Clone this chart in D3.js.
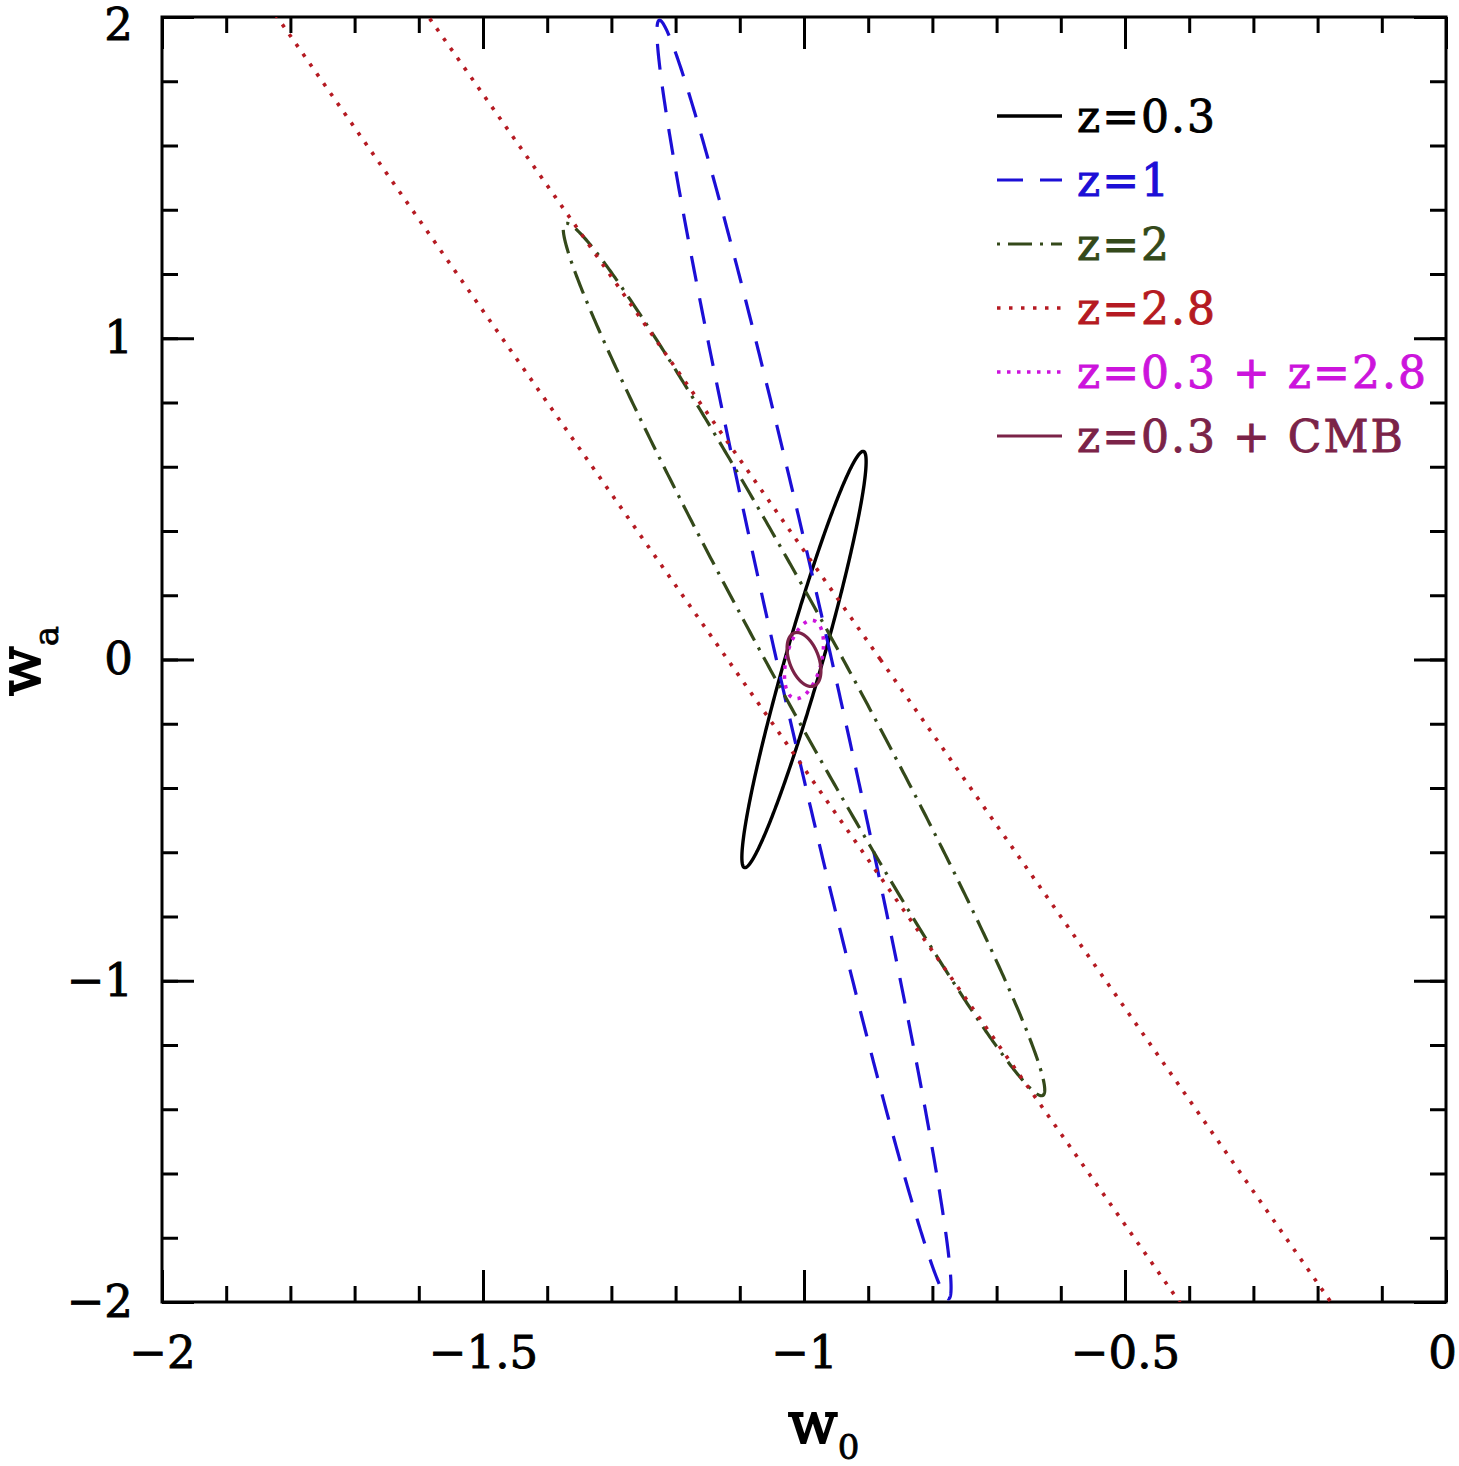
<!DOCTYPE html>
<html>
<head>
<meta charset="utf-8">
<script src="https://cdnjs.cloudflare.com/ajax/libs/d3/7.8.5/d3.min.js"></script>
<style>
  body { margin: 0; background: #fff; }
  text { font-family: "DejaVu Serif", serif; }
</style>
</head>
<body>
<div id="chart"></div>
<script>
// contours: centre, top point (offset) and half width in w0 at the centre
var labels   = ["z=0.3", "z=1", "z=2", "z=2.8", "z=0.3 + z=2.8", "z=0.3 + CMB"];
var centreW0 = [-1.0, -1.0, -1.0, -1.0, -1.0, -1.0];
var centreWa = [0, 0, 0, 0, 0, 0];
var tipW0    = [0.092, -0.225, -0.37, -5.27, 0.012, -0.011];
var tipWa    = [0.648, 1.99, 1.358, 15, 0.122, 0.084];
var halfW0   = [0.030, 0.043, 0.061, 0.119, 0.028, 0.024];

var colours  = ["#000000", "#1c0fd6", "#34491a", "#b51a22", "#cc14dc", "#7b2348"];
var dashes   = ["none", "26,17", "3,8,24,8", "3.5,8.5", "3.5,6.5", "none"];
var widths   = [3.4, 3.2, 3.2, 3.6, 3.6, 3.2];

var xMajor = [-2, -1.5, -1, -0.5, 0];
var yMajor = [-2, -1, 0, 1, 2];
var xMinor = d3.range(-20, 1).map(d => d / 10);
var yMinor = d3.range(-10, 11).map(d => d / 5);

// Setting margins
var svgWidth = 1459;
var svgHeight = 1466;
var margin = {top: 17, right: 13, bottom: 164, left: 162};
var width = svgWidth - margin.left - margin.right;
var height = svgHeight - margin.top - margin.bottom;

var svg = d3.select("#chart")
  .append("svg")
  .attr("width", svgWidth)
  .attr("height", svgHeight);

var chart = svg.append("g")
  .attr("transform", `translate(${margin.left}, ${margin.top})`);

var x = d3.scaleLinear().domain([-2, 0]).range([0, width]);
var y = d3.scaleLinear().domain([-2, 2]).range([height, 0]);

svg.append("defs").append("clipPath").attr("id", "plotclip")
  .append("rect").attr("width", width).attr("height", height);

// axes: minor and major ticks on all four sides, pointing inwards
var fmt = d => d === 0 ? "0" : (d < 0 ? "\u2212" + Math.abs(d) : String(d));

function tickAxis(axis, vals, size, pad, labelled) {
  return axis.tickValues(vals).tickSize(-size).tickPadding(pad)
    .tickFormat(labelled ? fmt : "");
}

var makers = [
  () => d3.axisBottom(x), () => d3.axisTop(x),
  () => d3.axisLeft(y), () => d3.axisRight(y)
];
var places = [`translate(0,${height})`, "translate(0,0)", "translate(0,0)", `translate(${width},0)`];
var minors = [xMinor, xMinor, yMinor, yMinor];
var majors = [xMajor, xMajor, yMajor, yMajor];
var pads = [34, 0, 29, 0];
var axisGroups = [];

makers.forEach(function(make, i) {
  var labelled = i === 0 || i === 2;
  chart.append("g").attr("transform", places[i])
    .call(tickAxis(make(), minors[i], 16, 0, false));
  axisGroups.push(chart.append("g").attr("class", labelled ? "lab" : "")
    .attr("transform", places[i])
    .call(tickAxis(make(), majors[i], 32, pads[i], labelled)));
});

chart.selectAll(".domain").remove();
chart.selectAll(".tick line").attr("stroke", "#000").attr("stroke-width", 3);
chart.selectAll(".lab text")
  .attr("font-family", "DejaVu Serif")
  .attr("font-size", 45)
  .attr("fill", "#000")
  .attr("stroke", "#000")
  .attr("stroke-width", 0.9);

// keep the end labels inside the picture
axisGroups[0].selectAll(".tick text").filter(d => d === 0).attr("dx", -4);
axisGroups[2].selectAll(".tick text").filter(d => d === 2).attr("dy", "0.5em");

chart.append("rect")
  .attr("width", width).attr("height", height)
  .attr("fill", "none").attr("stroke", "#000").attr("stroke-width", 3);

// contours
var angles = d3.range(0, 721).map(d => d / 720 * 2 * Math.PI);
var line = d3.line().x(d => x(d[0])).y(d => y(d[1]));

var plot = chart.append("g").attr("clip-path", "url(#plotclip)");

labels.forEach(function(lab, i) {
  var pts = angles.map(t => [
    centreW0[i] + tipW0[i] * Math.sin(t) + halfW0[i] * Math.cos(t),
    centreWa[i] + tipWa[i] * Math.sin(t)
  ]);
  plot.append("path")
    .attr("d", line(pts))
    .attr("fill", "none")
    .attr("stroke", colours[i])
    .attr("stroke-width", widths[i])
    .attr("stroke-dasharray", dashes[i]);
});

// legend
var legend = svg.append("g").attr("transform", "translate(997, 116)");
labels.forEach(function(lab, i) {
  var row = legend.append("g").attr("transform", `translate(0, ${i * 64})`);
  row.append("line")
    .attr("x1", 0).attr("x2", 65).attr("y1", 0).attr("y2", 0)
    .attr("stroke", colours[i]).attr("stroke-width", widths[i])
    .attr("stroke-dasharray", dashes[i]);
  row.append("text")
    .attr("x", 80).attr("y", 16)
    .attr("font-size", 44)
    .attr("letter-spacing", 2)
    .attr("fill", colours[i])
    .attr("stroke", colours[i])
    .attr("stroke-width", 0.9)
    .text(lab);
});

// axis labels
var xl = svg.append("text").attr("x", 788).attr("y", 1443)
  .attr("font-size", 58).attr("stroke", "#000").attr("stroke-width", 1.8);
xl.append("tspan").text("w");
xl.append("tspan").attr("font-size", 34).attr("stroke-width", 0.8)
  .attr("dy", 16).text("0");

var yl = svg.append("text")
  .attr("transform", "translate(40, 696) rotate(-90)")
  .attr("font-size", 58).attr("stroke", "#000").attr("stroke-width", 1.8);
yl.append("tspan").text("w");
yl.append("tspan").attr("font-size", 34).attr("stroke-width", 0.8)
  .attr("dy", 18).text("a");
</script>
</body>
</html>
